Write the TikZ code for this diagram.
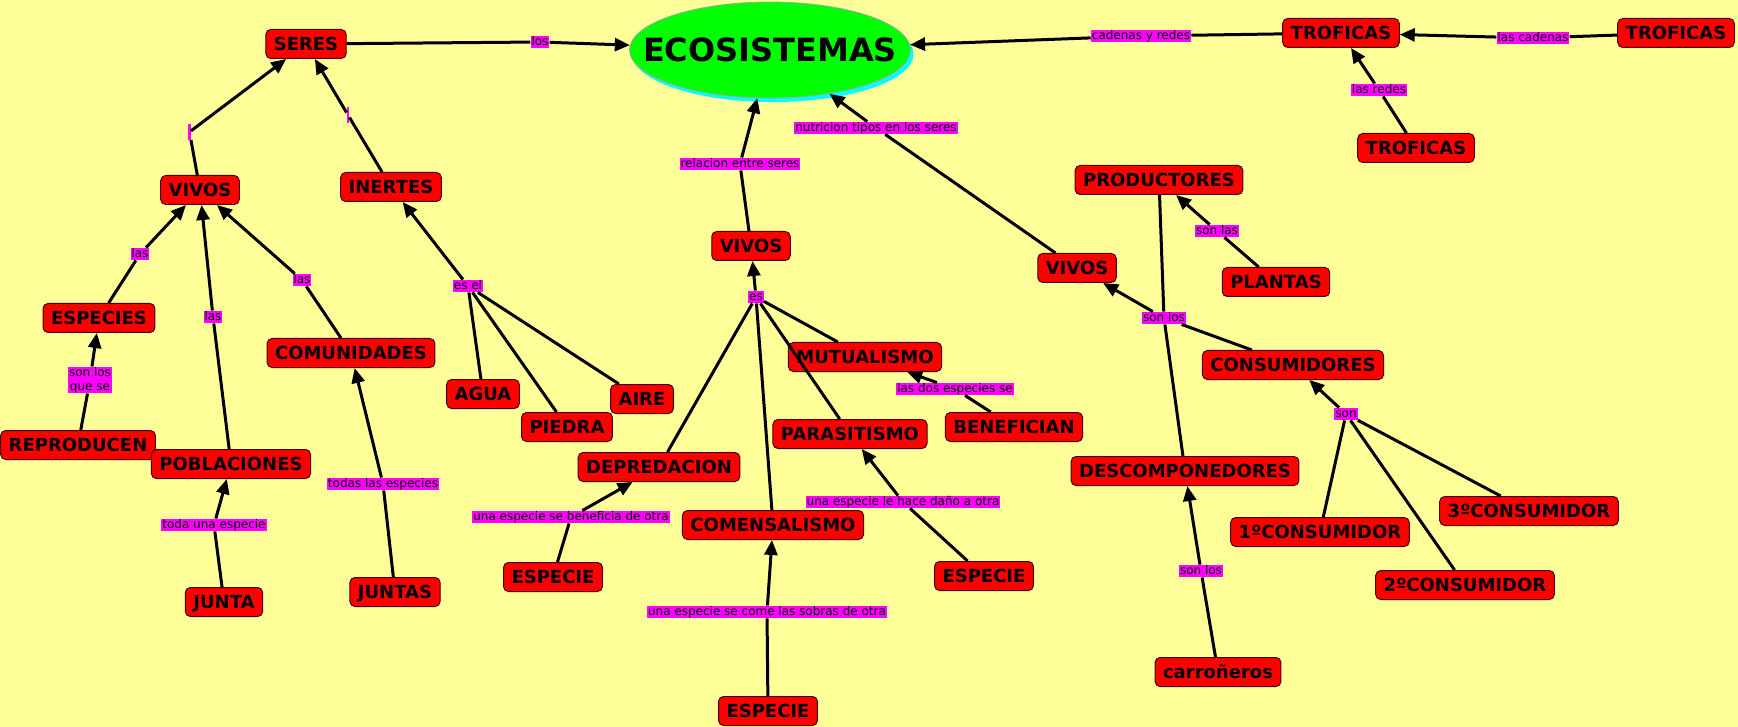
\documentclass[tikz,border=0pt]{standalone}
\usepackage{fontspec}
\setmainfont{DejaVu Sans}
\usetikzlibrary{arrows.meta,shapes.geometric,shadows}
\definecolor{fondo}{RGB}{255,255,153}
\definecolor{rojo}{RGB}{255,0,0}
\definecolor{borde}{RGB}{70,0,0}
\definecolor{rosa}{RGB}{255,0,255}
\definecolor{verde}{RGB}{0,255,0}
\definecolor{celeste}{RGB}{0,255,255}
\tikzset{
  concepto/.style={draw=borde,fill=rojo,line width=1pt,rounded corners=5pt,
    minimum height=29pt,inner xsep=8pt,inner ysep=0pt,text height=13pt,text depth=0pt,
    font=\fontsize{18}{18}\selectfont\bfseries},
  tema/.style={ellipse,draw=gray!70,fill=verde,line width=0.8pt,minimum width=281pt,
    minimum height=96pt,inner sep=0pt,font=\fontsize{32}{32}\selectfont\bfseries,
    drop shadow={fill=celeste,opacity=1,shadow xshift=3pt,shadow yshift=-4pt}},
  enlace/.style={fill=rosa,inner xsep=1pt,inner ysep=0.5pt,text height=9pt,text depth=2.5pt,
    font=\fontsize{12}{14}\selectfont},
  barra/.style={fill=rosa,inner sep=0pt,minimum width=2.5pt,minimum height=16pt},
  linea/.style={line width=3pt},
  flecha/.style={line width=3pt,-{Triangle[length=15pt,width=13pt]}}
}
\begin{document}
\begin{tikzpicture}[x=1pt,y=-1pt]
\fill[fondo] (0,0) rectangle (1738,727);
\useasboundingbox (0,0) rectangle (1738,727);
% conceptos
\node[tema] (eco) at (770,50) {\makebox[0pt]{ECOSISTEMAS}};
\node[concepto] (seres) at (306,44) {SERES};
\node[concepto] (vivosA) at (200,190) {VIVOS};
\node[concepto] (inertes) at (391,187) {INERTES};
\node[concepto] (especies) at (99,318) {ESPECIES};
\node[concepto] (comunidades) at (351,353) {COMUNIDADES};
\node[concepto] (reproducen) at (78,445) {REPRODUCEN};
\node[concepto] (poblaciones) at (231,464) {POBLACIONES};
\node[concepto] (junta) at (224,602) {JUNTA};
\node[concepto] (juntas) at (395,592) {JUNTAS};
\node[concepto] (agua) at (483,394) {AGUA};
\node[concepto] (piedra) at (567,427) {PIEDRA};
\node[concepto] (aire) at (642,399) {AIRE};
\node[concepto] (vivosB) at (751,246) {VIVOS};
\node[concepto] (mutualismo) at (865,357) {MUTUALISMO};
\node[concepto] (parasitismo) at (850,434) {PARASITISMO};
\node[concepto] (benefician) at (1014,427) {BENEFICIAN};
\node[concepto] (depredacion) at (659,467) {DEPREDACION};
\node[concepto] (comensalismo) at (773,525) {COMENSALISMO};
\node[concepto] (especieA) at (553,577) {ESPECIE};
\node[concepto] (especieB) at (984,576) {ESPECIE};
\node[concepto] (especieC) at (768,711) {ESPECIE};
\node[concepto] (troficasA) at (1341,33) {TROFICAS};
\node[concepto] (troficasB) at (1676,33) {TROFICAS};
\node[concepto] (troficasC) at (1416,148) {TROFICAS};
\node[concepto] (productores) at (1159,180) {PRODUCTORES};
\node[concepto] (plantas) at (1276,282) {PLANTAS};
\node[concepto] (vivosC) at (1077,268) {VIVOS};
\node[concepto] (consumidores) at (1293,365) {CONSUMIDORES};
\node[concepto] (descomp) at (1185,471) {DESCOMPONEDORES};
\node[concepto] (consumA) at (1320,532) {1ºCONSUMIDOR};
\node[concepto] (consumB) at (1465,585) {2ºCONSUMIDOR};
\node[concepto] (consumC) at (1529,511) {3ºCONSUMIDOR};
\node[concepto] (carro) at (1218,672) {carroñeros};
% enlaces
\node[enlace] (los) at (540,42) {los};
\node[barra] (barraA) at (189.5,132) {};
\node[barra] (barraB) at (348,115) {};
\node[enlace] (lasA) at (140,254) {las};
\node[enlace] (lasB) at (213,317) {las\ };
\node[enlace] (lasC) at (302,280) {las};
\node[enlace,align=center,text height=,text depth=] (sonlosA) at (90,380) {son los\\que se};
\node[enlace] (todauna) at (214,525) {toda una especie};
\node[enlace] (todaslas) at (383,484) {todas las especies};
\node[enlace] (esel) at (468,286) {es el};
\node[enlace] (es) at (756,297) {es};
\node[enlace] (relacion) at (740,164) {relacion entre seres};
\node[enlace] (nutricion) at (876,128) {nutricion tipos en los seres\ };
\node[enlace] (beneficia) at (571,517) {una especie se beneficia de otra};
\node[enlace] (sobras) at (767,612) {una especie se come las sobras de otra};
\node[enlace] (dano) at (903,502) {una especie le hace daño a otra};
\node[enlace] (dosesp) at (955,389) {las dos especies se};
\node[enlace] (cadredes) at (1141,36) {cadenas y redes};
\node[enlace] (lascad) at (1533,38) {las cadenas};
\node[enlace] (lasredes) at (1379,90) {las redes\ };
\node[enlace] (sonlas) at (1217,231) {son las};
\node[enlace] (sonlosB) at (1164,318) {son los};
\node[enlace] (son) at (1346,414) {son};
\node[enlace] (sonlosC) at (1201,571) {son los};
% conectores
\draw[linea] (seres) -- (los); \draw[flecha] (los) -- (eco);
\draw[linea] (vivosA) -- (barraA); \draw[flecha] (barraA) -- (seres);
\draw[linea] (inertes) -- (barraB); \draw[flecha] (barraB) -- (seres);
\draw[linea] (especies) -- (lasA); \draw[flecha] (lasA) -- (vivosA);
\draw[linea] (poblaciones) -- (lasB); \draw[flecha] (lasB) -- (vivosA);
\draw[linea] (comunidades) -- (lasC); \draw[flecha] (lasC) -- (vivosA);
\draw[linea] (reproducen) -- (sonlosA); \draw[flecha] (sonlosA) -- (especies);
\draw[linea] (junta) -- (todauna); \draw[flecha] (todauna) -- (poblaciones);
\draw[linea] (juntas) -- (todaslas); \draw[flecha] (todaslas) -- (comunidades);
\draw[linea] (agua) -- (esel);
\draw[linea] (piedra) -- (esel);
\draw[linea] (aire) -- (esel);
\draw[flecha] (esel) -- (inertes);
\draw[linea] (depredacion) -- (es);
\draw[linea] (comensalismo) -- (es);
\draw[linea] (parasitismo) -- (es);
\draw[linea] (mutualismo) -- (es);
\draw[flecha] (es) -- (vivosB);
\draw[linea] (vivosB) -- (relacion); \draw[flecha] (relacion) -- (eco);
\draw[linea] (vivosC) -- (nutricion); \draw[flecha] (nutricion) -- (eco);
\draw[linea] (especieA) -- (beneficia); \draw[flecha] (beneficia) -- (depredacion);
\draw[linea] (especieC) -- (sobras); \draw[flecha] (sobras) -- (comensalismo);
\draw[linea] (especieB) -- (dano); \draw[flecha] (dano) -- (parasitismo);
\draw[linea] (benefician) -- (dosesp); \draw[flecha] (dosesp) -- (mutualismo);
\draw[linea] (troficasA) -- (cadredes); \draw[flecha] (cadredes) -- (eco);
\draw[linea] (troficasB) -- (lascad); \draw[flecha] (lascad) -- (troficasA);
\draw[linea] (troficasC) -- (lasredes); \draw[flecha] (lasredes) -- (troficasA);
\draw[linea] (plantas) -- (sonlas); \draw[flecha] (sonlas) -- (productores);
\draw[linea] (productores) -- (sonlosB);
\draw[linea] (consumidores) -- (sonlosB);
\draw[linea] (descomp) -- (sonlosB);
\draw[flecha] (sonlosB) -- (vivosC);
\draw[linea] (consumA) -- (son);
\draw[linea] (consumB) -- (son);
\draw[linea] (consumC) -- (son);
\draw[flecha] (son) -- (consumidores);
\draw[linea] (carro) -- (sonlosC); \draw[flecha] (sonlosC) -- (descomp);
\end{tikzpicture}
\end{document}
